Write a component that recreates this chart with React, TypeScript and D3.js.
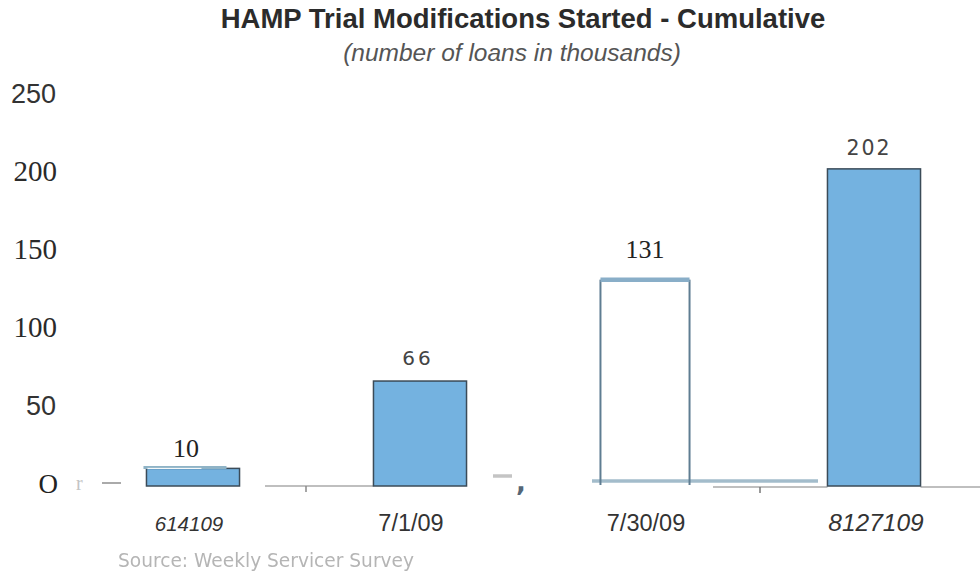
import React from "react";
import * as d3 from "d3";

const categories = ["614109", "7/1/09", "7/30/09", "8127109"];
const values = [10, 66, 131, 202];
const valueLabels = ["10", "66", "131", "202"];
const yTicks = [0, 50, 100, 150, 200, 250];
const title = "HAMP Trial Modifications Started - Cumulative";
const subtitle = "(number of loans in thousands)";
const source = "Source: Weekly Servicer Survey";

const W = 980;
const H = 573;

export default function App() {
  const y = d3.scaleLinear().domain([0, 250]).range([484, 94]);
  const x = d3
    .scaleBand<string>()
    .domain(categories)
    .range([79.5, 987.5])
    .paddingInner(0.59)
    .paddingOuter(0.295);
  const bw = x.bandwidth();
  const y0 = y(0);

  const tickStyle = (t: number) => {
    if (t === 250 || t === 50)
      return { font: "Liberation Sans, Arial, sans-serif", size: 27, fill: "#333", right: t === 50 ? 56 : 56 };
    if (t === 0) return { font: "Liberation Serif, Times New Roman, serif", size: 27, fill: "#222", right: 58 };
    return { font: "Liberation Serif, Times New Roman, serif", size: 29, fill: "#2a2a2a", right: 57 };
  };

  const catStyle = (i: number) => {
    if (i === 0) return { italic: true, size: 20.5, dx: -4 };
    if (i === 3) return { italic: true, size: 24.5, dx: 2 };
    return { italic: false, size: 23.5, dx: i === 1 ? -9 : -1 };
  };

  const labelStyle = (i: number) => {
    if (i === 0)
      return { font: "Liberation Serif, Times New Roman, serif", size: 26, spacing: 0, fill: "#222", dx: -7, dy: 11 };
    if (i === 2)
      return { font: "Liberation Serif, Times New Roman, serif", size: 26, spacing: 0, fill: "#222", dx: -2, dy: 22 };
    if (i === 1)
      return { font: "DejaVu Sans, sans-serif", size: 20, spacing: 3, fill: "#444", dx: -2, dy: 16 };
    return { font: "DejaVu Sans, sans-serif", size: 20.5, spacing: 2, fill: "#444", dx: -5, dy: 14 };
  };

  return (
    <svg width={W} height={H} style={{ position: "absolute", left: 0, top: 0, background: "#fff" }}>
      <defs>
        <filter id="blurSrc">
          <feGaussianBlur stdDeviation="0.6" />
        </filter>
      </defs>
      <text
        x={523}
        y={28}
        textAnchor="middle"
        fontFamily="Liberation Sans, Arial, sans-serif"
        fontWeight="bold"
        fontSize={27.5}
        fill="#2b2b2b"
      >
        {title}
      </text>
      <text
        x={512}
        y={61}
        textAnchor="middle"
        fontFamily="Liberation Sans, Arial, sans-serif"
        fontStyle="italic"
        fontSize={24.5}
        fill="#555"
      >
        {subtitle}
      </text>

      {/* y tick labels */}
      {yTicks.map((t) => {
        const s = tickStyle(t);
        return (
          <text
            key={t}
            x={s.right}
            y={y(t) + 9}
            textAnchor="end"
            fontFamily={s.font}
            fontSize={s.size}
            fill={s.fill}
          >
            {t === 0 ? "O" : String(t)}
          </text>
        );
      })}

      {/* broken baseline fragments */}
      <text x={76} y={y0 + 6} fontFamily="Liberation Serif, serif" fontSize={20} fill="#c4c4c4">
        r
      </text>
      <line x1={102} x2={121} y1={y0 - 1} y2={y0 - 1} stroke="#aaa" strokeWidth={2} />
      <line x1={265} x2={x(categories[1]) as number} y1={y0 + 2} y2={y0 + 2} stroke="#aaa" strokeWidth={1.5} />
      <line x1={306} x2={306} y1={y0 + 2} y2={y0 + 8} stroke="#888" strokeWidth={1.5} />
      <line x1={493} x2={512} y1={y0 - 8} y2={y0 - 8} stroke="#c4c4c4" strokeWidth={3.5} />
      <text x={516} y={y0 + 7} fontFamily="DejaVu Sans, sans-serif" fontWeight="bold" fontSize={26} fill="#556677">
        ,
      </text>
      <line x1={713} x2={x(categories[3]) as number} y1={y0 + 3} y2={y0 + 3} stroke="#aaa" strokeWidth={1.5} />
      <line x1={760} x2={760} y1={y0 + 3} y2={y0 + 9} stroke="#777" strokeWidth={1.5} />
      <line x1={(x(categories[3]) as number) + bw} x2={980} y1={y0 + 3} y2={y0 + 3} stroke="#aaa" strokeWidth={1.5} />

      {/* bars */}
      {categories.map((c, i) => {
        const bx = x(c) as number;
        const by = y(values[i]);
        if (i === 2) {
          return (
            <g key={c}>
              <line x1={592} x2={818} y1={y0 - 3} y2={y0 - 3} stroke="#a3bccb" strokeWidth={3.5} />
              <line x1={bx} x2={bx} y1={by} y2={y0 + 1} stroke="#5f7d92" strokeWidth={2} />
              <line x1={bx + bw - 4} x2={bx + bw - 4} y1={by} y2={y0 + 1} stroke="#5f7d92" strokeWidth={2} />
              <line x1={bx} x2={bx + bw - 4} y1={by} y2={by} stroke="#89aec8" strokeWidth={4.5} />
            </g>
          );
        }
        return (
          <g key={c}>
            <rect
              x={bx}
              y={by}
              width={bw}
              height={y0 + 2 - by}
              fill="#74b2e0"
              stroke="#3b4b58"
              strokeWidth={1.5}
            />
            {i === 0 && (
              <g>
                <line x1={bx - 3} x2={bx + 80} y1={by - 1} y2={by - 1} stroke="#8fb3c6" strokeWidth={3} />
                <line x1={bx + 1} x2={bx + 55} y1={by} y2={by} stroke="#ffffff" strokeWidth={1} />
              </g>
            )}
          </g>
        );
      })}

      {/* value labels */}
      {categories.map((c, i) => {
        const s = labelStyle(i);
        return (
          <text
            key={c}
            x={(x(c) as number) + bw / 2 + s.dx}
            y={y(values[i]) - s.dy}
            textAnchor="middle"
            fontFamily={s.font}
            fontSize={s.size}
            letterSpacing={s.spacing}
            fill={s.fill}
          >
            {valueLabels[i]}
          </text>
        );
      })}

      {/* category labels */}
      {categories.map((c, i) => {
        const s = catStyle(i);
        return (
          <text
            key={c}
            x={(x(c) as number) + bw / 2 + s.dx}
            y={531}
            textAnchor="middle"
            fontFamily="Liberation Sans, Arial, sans-serif"
            fontStyle={s.italic ? "italic" : "normal"}
            fontSize={s.size}
            fill="#333"
          >
            {c}
          </text>
        );
      })}

      <text
        x={118}
        y={567}
        fontFamily="DejaVu Sans, sans-serif"
        fontSize={19}
        fill="#b5b5b5"
        filter="url(#blurSrc)"
        textLength={296}
        lengthAdjust="spacingAndGlyphs"
      >
        {source}
      </text>
    </svg>
  );
}
